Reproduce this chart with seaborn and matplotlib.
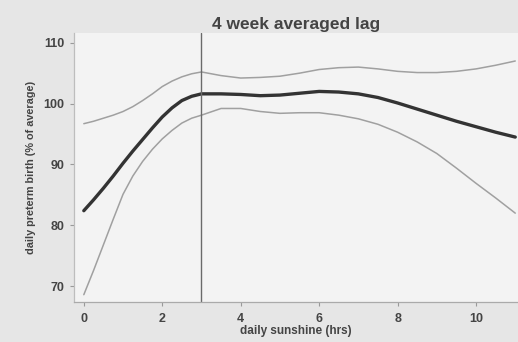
import numpy as np
import pandas as pd
import matplotlib
matplotlib.use("Agg")
import matplotlib.pyplot as plt
import seaborn as sns

sunshine = [0, 0.25, 0.5, 0.75, 1, 1.25, 1.5, 1.75, 2, 2.25, 2.5, 2.75, 3,
            3.5, 4, 4.5, 5, 5.5, 6, 6.5, 7, 7.5, 8, 8.5, 9, 9.5, 10, 10.5, 11]
estimate = [82.4, 84.2, 86.1, 88.1, 90.2, 92.2, 94.1, 96.0, 97.8, 99.3, 100.5,
            101.2, 101.6, 101.6, 101.5, 101.3, 101.4, 101.7, 102.0, 101.9,
            101.6, 101.0, 100.1, 99.1, 98.1, 97.1, 96.2, 95.3, 94.5]
upper = [96.7, 97.1, 97.6, 98.1, 98.7, 99.5, 100.5, 101.6, 102.8, 103.7, 104.4,
         104.9, 105.2, 104.6, 104.2, 104.3, 104.5, 105.0, 105.6, 105.9, 106.0,
         105.7, 105.3, 105.1, 105.1, 105.3, 105.7, 106.3, 107.0]
lower = [68.6, 72.6, 76.8, 81.0, 85.1, 88.1, 90.5, 92.5, 94.2, 95.6, 96.8,
         97.6, 98.1, 99.2, 99.2, 98.7, 98.4, 98.5, 98.5, 98.1, 97.5, 96.6,
         95.3, 93.7, 91.8, 89.4, 86.9, 84.5, 82.0]
xticks = [0, 2, 4, 6, 8, 10]
yticks = [70, 80, 90, 100, 110]
threshold = 3
title = "4 week averaged lag"
xlabel = "daily sunshine (hrs)"
ylabel = "daily preterm birth (% of average)"

sns.set_theme(style="white")
plt.rcParams['font.family'] = ['Liberation Sans', 'DejaVu Sans']

df = pd.DataFrame({"x": sunshine, "est": estimate, "up": upper, "lo": lower})

fig = plt.figure(figsize=(5.18, 3.42), dpi=100, facecolor="#e6e6e6")
ax = fig.add_axes([74/518, 1 - 302/342, (518 - 74)/518, (302 - 33)/342])
ax.set_facecolor("#f3f3f3")

sns.lineplot(data=df, x="x", y="up", ax=ax, color="#a0a0a0", linewidth=1.1)
sns.lineplot(data=df, x="x", y="lo", ax=ax, color="#a0a0a0", linewidth=1.1)
sns.lineplot(data=df, x="x", y="est", ax=ax, color="#333333", linewidth=2.4)
ax.axvline(threshold, color="#6a6a6a", linewidth=1.0)

ax.set_xlim(-0.25, 11.07)
ax.set_ylim(67.4, 111.6)
ax.set_xticks(xticks)
ax.set_yticks(yticks)
ax.tick_params(axis="both", which="both", length=3, width=0.8, color="#999999",
               labelsize=9, labelcolor="#444444", left=True, bottom=True)
ax.tick_params(axis="y", pad=4)
ax.tick_params(axis="x", pad=5)
for lab in ax.get_xticklabels() + ax.get_yticklabels():
    lab.set_fontweight("bold")

for s in ["top", "right"]:
    ax.spines[s].set_visible(False)
ax.spines["left"].set_color("#bdbdbd")
ax.spines["bottom"].set_color("#aaaaaa")
ax.spines["left"].set_linewidth(0.9)
ax.spines["bottom"].set_linewidth(0.9)

ax.set_title(title, fontsize=12.5, fontweight="bold", color="#444444", pad=3)
ax.set_xlabel(xlabel, fontsize=8.5, fontweight="bold", color="#444444", labelpad=0)
ax.set_ylabel(ylabel, fontsize=7.8, fontweight="bold", color="#444444", labelpad=5)

fig.savefig("out.png", dpi=100, facecolor=fig.get_facecolor())
